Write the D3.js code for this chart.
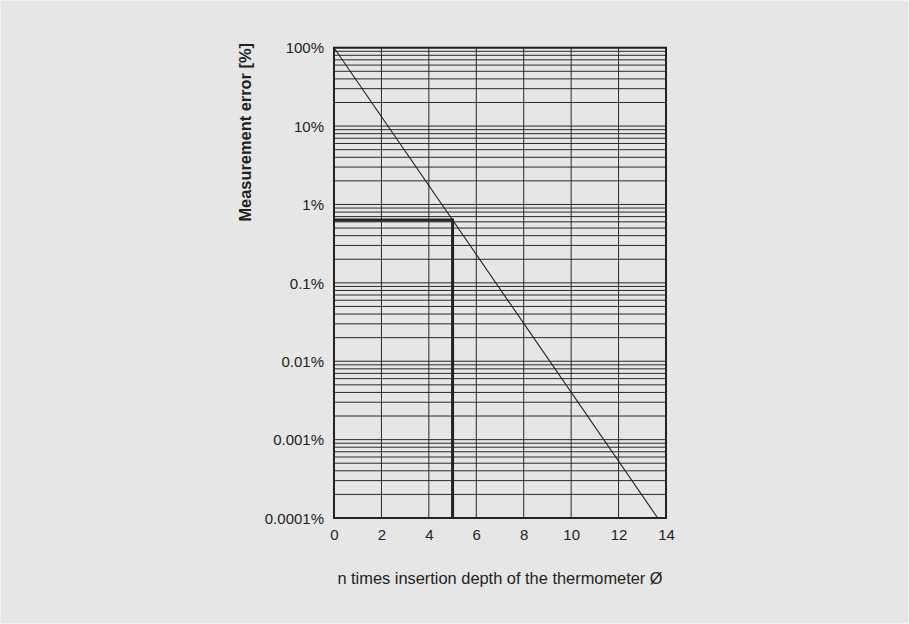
<!DOCTYPE html>
<html>
<head>
<meta charset="utf-8">
<script src="https://cdn.jsdelivr.net/npm/d3@7"></script>
<style>
  html, body { margin: 0; padding: 0; background: #e6e6e6; }
  svg { display: block; }
  text { font-family: "Liberation Sans", Arial, Helvetica, sans-serif; fill: #222; }
</style>
</head>
<body>
<svg id="chart" width="909" height="624"></svg>
<script>
// ---- data ----
const xTicks = [0, 2, 4, 6, 8, 10, 12, 14];
const yTicks = [100, 10, 1, 0.1, 0.01, 0.001, 0.0001];
const yTickLabels = ["100%", "10%", "1%", "0.1%", "0.01%", "0.001%", "0.0001%"];
const curveX = [0, 13.65];
const curveY = [100, 0.0001];
const markerX = [0, 5, 5];
const markerY = [0.634, 0.634, 0.0001];
const xTitle = "n times insertion depth of the thermometer Ø";
const yTitle = "Measurement error [%]";

// ---- layout ----
const W = 909, H = 624;
const mLeft = 334, mRight = 666, mTop = 47.7, mBottom = 518;

const svg = d3.select("#chart");
svg.append("rect").attr("x", 0.5).attr("y", 0.5).attr("width", W - 1).attr("height", H - 1)
  .attr("fill", "#e6e6e6").attr("stroke", "#f2f2f2").attr("stroke-width", 1);

const x = d3.scaleLinear().domain([0, 14]).range([mLeft, mRight]);
const y = d3.scaleLog().domain([0.0001, 100]).range([mBottom, mTop]);

// horizontal minor + major gridlines
const hLines = [];
for (let k = -4; k <= 1; k++) {
  for (let m = 1; m <= 9; m++) hLines.push(m * Math.pow(10, k));
}
hLines.push(100);
svg.append("g").selectAll("line").data(hLines).join("line")
  .attr("x1", x(0)).attr("x2", x(14))
  .attr("y1", d => y(d)).attr("y2", d => y(d))
  .attr("stroke", "#2a2a2a").attr("stroke-width", 1);

// vertical gridlines
svg.append("g").selectAll("line").data(xTicks.filter(d => d > 0 && d < 14)).join("line")
  .attr("x1", d => x(d)).attr("x2", d => x(d))
  .attr("y1", y(100)).attr("y2", y(0.0001))
  .attr("stroke", "#2a2a2a").attr("stroke-width", 1);

// frame
svg.append("rect").attr("x", mLeft).attr("y", mTop)
  .attr("width", mRight - mLeft).attr("height", mBottom - mTop)
  .attr("fill", "none").attr("stroke", "#222").attr("stroke-width", 2);

// diagonal curve
const line = d3.line().x(d => x(d[0])).y(d => y(d[1]));
svg.append("path").datum(curveX.map((v, i) => [v, curveY[i]]))
  .attr("d", line).attr("fill", "none").attr("stroke", "#222").attr("stroke-width", 1.1);

// marker
svg.append("path").datum(markerX.map((v, i) => [v, markerY[i]]))
  .attr("d", line).attr("fill", "none").attr("stroke", "#222").attr("stroke-width", 3);

// x axis labels
const xAxis = d3.axisBottom(x).tickValues(xTicks).tickSize(0).tickPadding(0).tickFormat(d3.format("d"));
const gx = svg.append("g").attr("transform", `translate(0,${mBottom})`).call(xAxis);
gx.select(".domain").remove();
gx.selectAll("text").attr("y", 22).attr("dy", 0).attr("font-size", 15)
  .style("font-family", "'Liberation Sans', Arial, sans-serif").attr("fill", "#222");

// y axis labels
const yAxis = d3.axisLeft(y).tickValues(yTicks).tickSize(0).tickPadding(10)
  .tickFormat((d, i) => yTickLabels[i]);
const gy = svg.append("g").attr("transform", `translate(${mLeft},0)`).call(yAxis);
gy.select(".domain").remove();
gy.selectAll("text").attr("font-size", 15).attr("dy", "0.35em")
  .style("font-family", "'Liberation Sans', Arial, sans-serif").attr("fill", "#222");

// titles
svg.append("text").attr("x", (mLeft + mRight) / 2).attr("y", 584)
  .attr("text-anchor", "middle").attr("font-size", 16.4).text(xTitle);
svg.append("text").attr("transform", `translate(251,43) rotate(-90)`)
  .attr("text-anchor", "end").attr("font-size", 16.4).attr("font-weight", "bold").text(yTitle);
</script>
</body>
</html>
